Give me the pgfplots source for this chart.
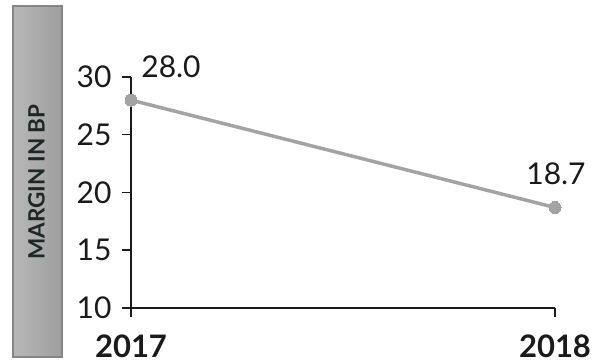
\documentclass[border=0pt]{standalone}
\usepackage{pgfplots}
\pgfplotsset{compat=1.18}
\usepackage{fontspec}
\setmainfont{Lato}
\definecolor{linegray}{HTML}{A3A3A3}
\definecolor{ink}{HTML}{1A1A1A}
\definecolor{labelink}{HTML}{1E2626}
\definecolor{boxleft}{HTML}{B8B8B8}
\definecolor{boxright}{HTML}{9E9E9E}
\definecolor{boxedge}{HTML}{858585}
\begin{document}
\begin{tikzpicture}[x=1pt,y=1pt]
\useasboundingbox (0,0) rectangle (596,363);
% side label box
\shade[left color=boxleft,right color=boxright,draw=boxedge,line width=1.5pt]
  (13,6) rectangle (62,357);
\node[rotate=90,text=labelink,font=\fontsize{22.5}{24}\selectfont\bfseries] at (36.5,181) {MARGIN IN BP};
\begin{axis}[
  at={(131pt,55pt)}, anchor=south west,
  scale only axis, width=424pt, height=231pt,
  xmin=0, xmax=1, ymin=10, ymax=30,
  axis x line*=bottom, axis y line*=left,
  axis line style={ink,line width=1.8pt},
  xtick={0,1}, xticklabels={2017,2018},
  ytick={10,15,20,25,30},
  tick align=outside, major tick length=9pt,
  tick style={ink,line width=1.5pt},
  /pgf/number format/assume math mode=true,
  yticklabel style={font=\fontsize{30}{32}\selectfont, text=ink, xshift=-7pt},
  xticklabel style={font=\fontsize{31}{33}\selectfont\bfseries, text=ink, yshift=-14pt},
  clip=false,
]
\addplot[linegray, line width=3.5pt, mark=*, mark size=6pt,
  mark options={fill=linegray,draw=linegray,line width=0pt}]
  coordinates {(0,28.0) (1,18.7)};
\node[text=ink,font=\fontsize{30}{32}\selectfont] at (axis cs:0,28.0) [xshift=40pt,yshift=33.5pt] {28.0};
\node[text=ink,font=\fontsize{30}{32}\selectfont] at (axis cs:1,18.7) [xshift=1pt,yshift=34pt] {18.7};
\end{axis}
\end{tikzpicture}
\end{document}
